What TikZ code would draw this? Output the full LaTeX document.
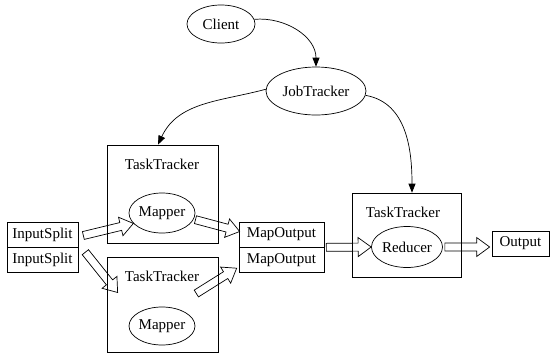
\documentclass[tikz,border=0pt]{standalone}
\usepackage{fontspec}
\setmainfont{Liberation Serif}
\usetikzlibrary{arrows.meta,shapes.geometric,calc}

% hollow block arrow from #1 to #2
\newcommand{\blockarrow}[2]{%
  \coordinate (ba) at #1;
  \coordinate (bb) at #2;
  \coordinate (bh) at ($(bb)!13pt!(ba)$);
  \draw ($(ba)!4pt!90:(bb)$) -- ($(bh)!4pt!90:(bb)$) -- ($(bh)!9.5pt!90:(bb)$)
    -- (bb) -- ($(bh)!9.5pt!-90:(bb)$) -- ($(bh)!4pt!-90:(bb)$)
    -- ($(ba)!4pt!-90:(bb)$) -- cycle;}

\begin{document}
\begin{tikzpicture}[x=1pt,y=-1pt,line width=0.7pt]
\tikzstyle{every node}=[font=\fontsize{15}{17}\selectfont,inner sep=0pt]
\tikzstyle{oval}=[draw,ellipse]
\tikzstyle{box}=[draw,rectangle]
\tikzstyle{link}=[-{Triangle[length=9pt,width=7pt]}]

\useasboundingbox (0,0) rectangle (550,354);

% master side
\node[oval,minimum width=68,minimum height=38] (client) at (221,24) {Client};
\node[oval,minimum width=100,minimum height=48] (job) at (316,91) {JobTracker};

% task trackers
\node[box,minimum width=111,minimum height=98] (tt1) at (162.5,194) {};
\node (tt1lbl) at (162,164) {TaskTracker};
\node[oval,minimum width=63,minimum height=40] (map1) at (162,213) {Mapper};

\node[box,minimum width=111,minimum height=95] (tt2) at (162.5,304.5) {};
\node (tt2lbl) at (162,276) {TaskTracker};
\node[oval,minimum width=63,minimum height=38] (map2) at (162,326) {Mapper};

\node[box,minimum width=109,minimum height=84] (tt3) at (406.5,235) {};
\node (tt3lbl) at (403,212) {TaskTracker};
\node[oval,minimum width=71,minimum height=41] (red) at (407,247) {Reducer};

% input and output records
\node[box,minimum width=71,minimum height=25] (in1) at (42.5,234.5) {InputSplit};
\node[box,minimum width=71,minimum height=25] (in2) at (42.5,260.2) {InputSplit};
\node[box,minimum width=85,minimum height=25] (mo1) at (281.5,234.5) {MapOutput};
\node[box,minimum width=85,minimum height=25] (mo2) at (281.5,260.2) {MapOutput};
\node[box,minimum width=57,minimum height=25] (out) at (520.5,243.5) {Output};

% control flow
\draw[link] (client.8) to[out=5,in=90] (job.north);
\draw[link] (job.178) to[out=195,in=65] (tt1.north -| 158,0);
\draw[link] (job.-5) to[out=-10,in=90] (tt3.north -| 412,0);

% data flow
\blockarrow{($(in1.east)+(5,1)$)}{(map1.200)}
\blockarrow{($(in2.east)+(7,-8)$)}{($(tt2.west)+(11,-12)$)}
\blockarrow{($(map1.-12)+(2,0)$)}{($(mo1.west)+(1,-3)$)}
\blockarrow{($(tt2.east)+(-22,-11)$)}{($(mo2.west)+(-2,8)$)}
\blockarrow{($(mo1.south east)+(2,0)$)}{(red.west)}
\blockarrow{($(red.east)+(2,0)$)}{($(out.west |- red.east)+(-2,0)$)}

\end{tikzpicture}
\end{document}
